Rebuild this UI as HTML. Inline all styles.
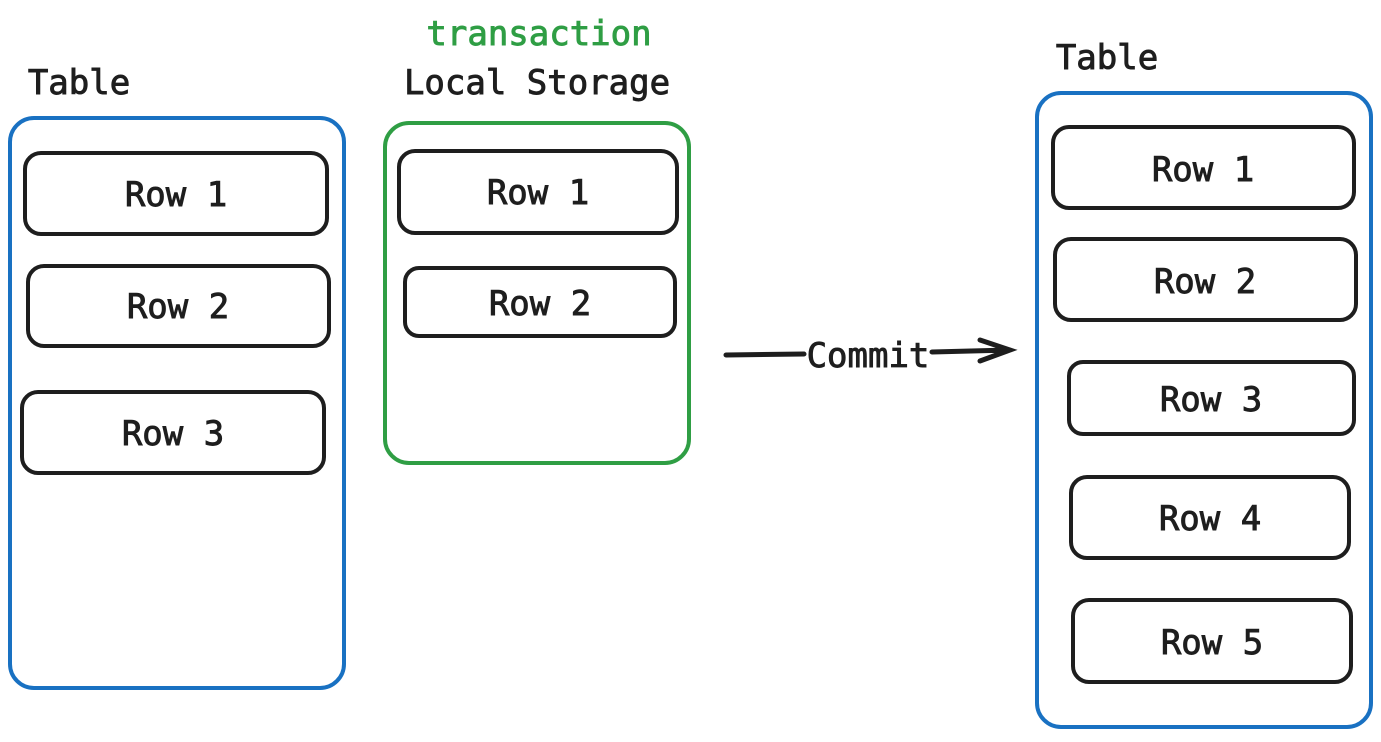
<!DOCTYPE html>
<html><head><style>html,body{margin:0;padding:0;background:#fff}</style></head><body>
<svg width="1381" height="737" viewBox="0 0 1381 737" xmlns="http://www.w3.org/2000/svg" font-family="DejaVu Sans Mono, Liberation Mono, monospace" font-size="34">
<g fill="none" stroke-linecap="round">
<rect x="10" y="118" width="334" height="570" rx="24" stroke="#1971c2" stroke-width="4"/>
<rect x="385" y="123" width="304" height="340" rx="24" stroke="#2f9e44" stroke-width="4"/>
<rect x="1037" y="93" width="334" height="634" rx="24" stroke="#1971c2" stroke-width="4"/>
<g stroke="#1e1e1e" stroke-width="4">
<rect x="25" y="153" width="302" height="81" rx="16"/>
<rect x="28" y="266" width="301" height="80" rx="16"/>
<rect x="22" y="392" width="302" height="81" rx="16"/>
<rect x="399" y="151" width="278" height="82" rx="16"/>
<rect x="405" y="268" width="270" height="68" rx="14"/>
<rect x="1053" y="127" width="301" height="81" rx="16"/>
<rect x="1055" y="239" width="301" height="81" rx="16"/>
<rect x="1069" y="362" width="285" height="72" rx="14"/>
<rect x="1071" y="477" width="278" height="81" rx="16"/>
<rect x="1073" y="600" width="278" height="82" rx="16"/>
<path d="M726 355 L804 354 M932 352 L1010 350 M980 340 L1010 350 L980 361" stroke-width="5"/>
</g></g>
<g fill="#1e1e1e" stroke="#1e1e1e" stroke-width="0.9" text-anchor="middle">
<text x="176" y="206">Row 1</text>
<text x="178" y="318">Row 2</text>
<text x="173" y="445">Row 3</text>
<text x="538" y="204">Row 1</text>
<text x="540" y="315">Row 2</text>
<text x="1203" y="181">Row 1</text>
<text x="1205" y="293">Row 2</text>
<text x="1211" y="411">Row 3</text>
<text x="1210" y="530">Row 4</text>
<text x="1212" y="654">Row 5</text>
<text x="868" y="367">Commit</text>
<text x="537" y="94">Local Storage</text>
<text x="79" y="94">Table</text>
<text x="1107" y="69">Table</text>
<text x="539" y="45" fill="#2f9e44" stroke="#2f9e44">transaction</text>
</g>
</svg>
</body></html>
